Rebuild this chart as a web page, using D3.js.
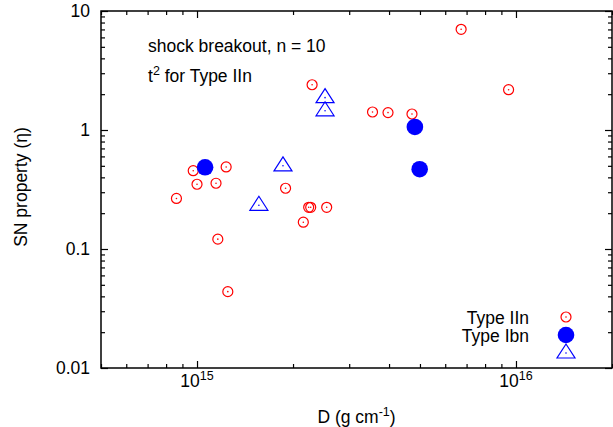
<!DOCTYPE html>
<html>
<head>
<meta charset="utf-8">
<script src="https://cdn.jsdelivr.net/npm/d3@7"></script>
<style>
  body { margin: 0; background: #fff; }
  text { font-family: "Liberation Sans", Arial, sans-serif; fill: #000; }
</style>
</head>
<body>
<div id="chart-area"></div>
<script>
/* Data: [D (g cm^-1), eta] */
var typeIIn = [
  [9.73e14, 0.455], [1.234e15, 0.489], [1.00e15, 0.350], [1.147e15, 0.357],
  [8.62e14, 0.266], [1.895e15, 0.324], [2.239e15, 0.224], [2.272e15, 0.224],
  [2.55e15, 0.224], [2.154e15, 0.168], [1.162e15, 0.121], [1.249e15, 0.0438],
  [2.295e15, 2.40], [3.55e15, 1.417], [3.97e15, 1.40], [4.72e15, 1.363],
  [6.73e15, 7.02], [9.48e15, 2.18]
];
var typeIbn = [[1.06e15, 0.486], [4.82e15, 1.06], [4.99e15, 0.468]];
var typeIbnOpen = [[1.86e15, 0.50], [1.563e15, 0.233], [2.52e15, 1.87], [2.52e15, 1.45]];

var xMajor = [1e15, 1e16];
var xMajorExp = ["15", "16"];
var yMajor = [0.01, 0.1, 1, 10];
var yMajorLabels = ["0.01", "0.1", "1", "10"];
var legendLabels = ["Type IIn", "Type Ibn", ""];

/* Margin convention */
var margin = {top: 11, right: 1, bottom: 59, left: 101};
var width = 613 - margin.left - margin.right;
var height = 427 - margin.top - margin.bottom;
var fs = "17.5px", fsSup = "12.5px";

var svg = d3.select("#chart-area").append("svg")
  .attr("width", 613)
  .attr("height", 427);
var g = svg.append("g")
  .attr("transform", "translate(" + margin.left + "," + margin.top + ")");

/* Scales */
var x = d3.scaleLog().domain([5e14, 2e16]).range([0, width]);
var y = d3.scaleLog().domain([0.01, 10]).range([height, 0]);

var xMinor = x.ticks().filter(d => xMajor.indexOf(d) < 0);
var yMinor = y.ticks().filter(d => yMajor.indexOf(d) < 0);

/* Axes: inward ticks on all four sides */
function ticks(axisFn, scale, vals, size, tr) {
  var a = g.append("g")
    .attr("transform", tr)
    .call(axisFn(scale).tickValues(vals).tickSize(-size).tickSizeOuter(0).tickFormat(""));
  a.select(".domain").remove();
  a.selectAll("line").attr("stroke", "#000").attr("stroke-width", 1.2);
}
ticks(d3.axisBottom, x, xMajor, 7, "translate(0," + height + ")");
ticks(d3.axisBottom, x, xMinor, 4, "translate(0," + height + ")");
ticks(d3.axisTop, x, xMajor, 7, "translate(0,0)");
ticks(d3.axisTop, x, xMinor, 4, "translate(0,0)");
ticks(d3.axisLeft, y, yMajor, 7, "translate(0,0)");
ticks(d3.axisLeft, y, yMinor, 4, "translate(0,0)");
ticks(d3.axisRight, y, yMajor, 7, "translate(" + width + ",0)");
ticks(d3.axisRight, y, yMinor, 4, "translate(" + width + ",0)");

g.append("rect")
  .attr("width", width)
  .attr("height", height)
  .attr("fill", "none")
  .attr("stroke", "#000")
  .attr("stroke-width", 1.5);

// tick labels
xMajor.forEach((v, i) => {
  var t = g.append("text")
    .attr("x", x(v))
    .attr("y", height + 19)
    .attr("text-anchor", "middle")
    .attr("font-size", fs);
  t.append("tspan").text("10");
  t.append("tspan").attr("dy", -7).attr("font-size", fsSup).text(xMajorExp[i]);
});

yMajor.forEach((v, i) => {
  g.append("text")
    .attr("x", -11)
    .attr("y", y(v))
    .attr("dy", "0.36em")
    .attr("text-anchor", "end")
    .attr("font-size", fs)
    .text(yMajorLabels[i]);
});

/* Labels */
var xLabel = g.append("text")
  .attr("x", width / 2)
  .attr("y", height + 55)
  .attr("text-anchor", "middle")
  .attr("font-size", fs);
xLabel.append("tspan").text("D (g cm");
xLabel.append("tspan").attr("dy", -7).attr("font-size", fsSup).text("-1");
xLabel.append("tspan").attr("dy", 7).text(")");

g.append("text")
  .attr("transform", "rotate(-90)")
  .attr("x", -176)
  .attr("y", -74)
  .attr("text-anchor", "middle")
  .attr("font-size", fs)
  .text("SN property (\u03b7)");

g.append("text")
  .attr("x", 47)
  .attr("y", 41)
  .attr("font-size", fs)
  .text("shock breakout, n = 10");

var t2 = g.append("text")
  .attr("x", 47)
  .attr("y", 71)
  .attr("font-size", fs);
t2.append("tspan").text("t");
t2.append("tspan").attr("dy", -7).attr("font-size", fsSup).text("2");
t2.append("tspan").attr("dy", 7).text(" for Type IIn");

/* Marks */
function openCircle(sel) {
  sel.append("circle").attr("r", 5).attr("fill", "none")
    .attr("stroke", "#ff0000").attr("stroke-width", 1.2);
  sel.append("circle").attr("r", 0.8).attr("fill", "#ff0000");
}
function filledCircle(sel) {
  sel.append("circle").attr("r", 8.3).attr("fill", "#0000ff");
}
function triangle(sel) {
  sel.append("path").attr("d", "M0,-9L9,5L-9,5Z").attr("fill", "none")
    .attr("stroke", "#0000ff").attr("stroke-width", 1.2);
  sel.append("circle").attr("r", 0.8).attr("fill", "#0000ff");
}

g.selectAll(".iin").data(typeIIn).enter().append("g")
  .attr("class", "iin")
  .attr("transform", d => "translate(" + x(d[0]) + "," + y(d[1]) + ")")
  .call(openCircle);

g.selectAll(".ibn").data(typeIbn).enter().append("g")
  .attr("class", "ibn")
  .attr("transform", d => "translate(" + x(d[0]) + "," + y(d[1]) + ")")
  .call(filledCircle);

g.selectAll(".ibnt").data(typeIbnOpen).enter().append("g")
  .attr("class", "ibnt")
  .attr("transform", d => "translate(" + x(d[0]) + "," + y(d[1]) + ")")
  .call(triangle);

/* Legend */
var markers = [openCircle, filledCircle, triangle];
var legend = g.append("g").attr("transform", "translate(0,306)");
legendLabels.forEach((lab, i) => {
  var row = legend.append("g").attr("transform", "translate(0," + (i * 18) + ")");
  row.append("text")
    .attr("x", 428)
    .attr("y", 6.5)
    .attr("text-anchor", "end")
    .attr("font-size", fs)
    .text(lab);
  row.append("g").attr("transform", "translate(465,0)").call(markers[i]);
});
</script>
</body>
</html>
